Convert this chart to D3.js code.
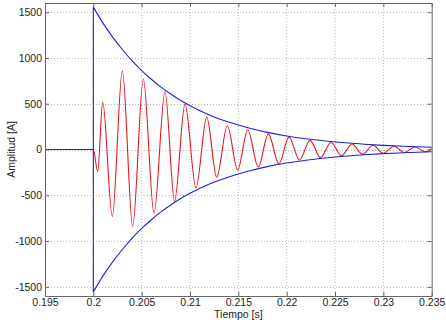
<!DOCTYPE html>
<html>
<head>
<meta charset="utf-8">
<script src="https://cdn.jsdelivr.net/npm/d3@7"></script>
<style>
  body { margin: 0; background: #fff; }
  svg { display: block; font-family: "Liberation Sans", Arial, Helvetica, sans-serif; }
</style>
</head>
<body>
<div id="chart"></div>
<script>
// tick values and labels
var xTicks = [0.195, 0.2, 0.205, 0.21, 0.215, 0.22, 0.225, 0.23, 0.235];
var xTickLabels = ["0.195", "0.2", "0.205", "0.21", "0.215", "0.22", "0.225", "0.23", "0.235"];
var yTicks = [-1500, -1000, -500, 0, 500, 1000, 1500];
var yTickLabels = ["-1500", "-1000", "-500", "0", "500", "1000", "1500"];

// envelope (blue)
var envTime = [0.195, 0.2, 0.201, 0.202, 0.203, 0.204, 0.205, 0.206, 0.207, 0.208, 0.209, 0.21,
  0.212, 0.214, 0.216, 0.218, 0.22, 0.222, 0.224, 0.226, 0.228, 0.23, 0.232, 0.235];
var envUpper = [0, 1555, 1380, 1228, 1092, 970, 862, 767, 681, 606, 538, 479,
  378, 300, 237, 187, 148, 117, 93, 73, 58, 45, 36, 25];
var envLower = [0, -1555, -1380, -1228, -1092, -970, -862, -767, -681, -606, -538, -479,
  -378, -300, -237, -187, -148, -117, -93, -73, -58, -45, -36, -25];

// current signal (red): peaks and troughs
var sigTime = [0.195, 0.2, 0.20045, 0.20097, 0.20196, 0.20300, 0.20407, 0.20517, 0.20628, 0.20741,
  0.20840, 0.20948, 0.21062, 0.21173, 0.21276, 0.21386, 0.21493, 0.21597, 0.21706, 0.21810,
  0.21920, 0.22024, 0.22133, 0.22241, 0.22350, 0.22458, 0.22567, 0.22676, 0.22784, 0.22893,
  0.23001, 0.23110, 0.23219, 0.23327, 0.23436, 0.235];
var sigValue = [0, 0, -240, 517, -731, 859, -840, 768, -694, 633,
  -565, 496, -421, 354, -301, 259, -222, 215, -192, 171,
  -156, 135, -115, 100, -88, 77, -68, 60, -53, 46,
  -41, 36, -32, 28, -25, 8];

var svgWidth = 446;
var svgHeight = 320;
var margin = { top: 3, right: 14.3, bottom: 24, left: 45 };
var width = svgWidth - margin.left - margin.right;
var height = svgHeight - margin.top - margin.bottom;

var svg = d3.select("#chart").append("svg")
  .attr("width", svgWidth)
  .attr("height", svgHeight);

var g = svg.append("g")
  .attr("transform", `translate(${margin.left},${margin.top})`);

var x = d3.scaleLinear().domain([0.195, 0.235]).range([0, width]);
var y = d3.scaleLinear().domain([-1600, 1600]).range([height, 0]);

// grid
g.append("g").selectAll("line").data(xTicks.slice(1, -1)).enter().append("line")
  .attr("x1", d => x(d)).attr("x2", d => x(d))
  .attr("y1", 0).attr("y2", height)
  .attr("stroke", "#b8b8b8").attr("stroke-width", 1).attr("stroke-dasharray", "1,2");
g.append("g").selectAll("line").data(yTicks).enter().append("line")
  .attr("y1", d => Math.round(y(d)) + 0.5).attr("y2", d => Math.round(y(d)) + 0.5)
  .attr("x1", 0).attr("x2", width)
  .attr("stroke", "#b8b8b8").attr("stroke-width", 1).attr("stroke-dasharray", "1,2");

// signal
var sig = sigTime.map((t, i) => ({ t: t, v: sigValue[i] }));
var line = d3.line().x(d => x(d.t)).y(d => y(d.v)).curve(d3.curveMonotoneX);

g.append("path")
  .datum(sig)
  .attr("fill", "none")
  .attr("stroke", "#e8141c")
  .attr("stroke-width", 1.1)
  .attr("d", line);

// envelopes: flat part, jump at 0.2, then decay
var upper = envTime.map((t, i) => ({ t: t, v: envUpper[i] }));
var lower = envTime.map((t, i) => ({ t: t, v: envLower[i] }));
var straight = d3.line().x(d => x(d.t)).y(d => y(d.v));

[upper, lower].forEach(function(env) {
  g.append("path")
    .datum(env.slice(0, 2).concat([{ t: env[1].t, v: 0 }]))
    .attr("fill", "none").attr("stroke", "#2020e0").attr("stroke-width", 1.1)
    .attr("d", d => straight([d[0], d[2], d[1]]));
  g.append("path")
    .datum(env.slice(1))
    .attr("fill", "none").attr("stroke", "#2020e0").attr("stroke-width", 1.1)
    .attr("d", line);
});

// axes with inward ticks on all four sides
var axisColor = "#666";
var xAxis = d3.axisBottom(x).tickValues(xTicks).tickFormat((d, i) => xTickLabels[i])
  .tickSizeInner(-4).tickSizeOuter(0).tickPadding(3);
var yAxis = d3.axisLeft(y).tickValues(yTicks).tickFormat((d, i) => yTickLabels[i])
  .tickSizeInner(-4).tickSizeOuter(0).tickPadding(3);

var xa = g.append("g").attr("transform", `translate(0,${height})`).call(xAxis);
var ya = g.append("g").call(yAxis);
g.append("g").call(d3.axisTop(x).tickValues(xTicks).tickFormat("").tickSizeInner(-4).tickSizeOuter(0));
g.append("g").attr("transform", `translate(${width},0)`)
  .call(d3.axisRight(y).tickValues(yTicks).tickFormat("").tickSizeInner(-4).tickSizeOuter(0));

g.selectAll(".domain").attr("stroke", axisColor);
g.selectAll(".tick line").attr("stroke", axisColor);
g.selectAll(".tick text").attr("fill", "#222").attr("font-size", "10.5px")
  .attr("font-family", "'Liberation Sans', Arial, Helvetica, sans-serif");

// axis labels
svg.append("text")
  .attr("x", margin.left + width / 2)
  .attr("y", 318.3)
  .attr("text-anchor", "middle")
  .attr("font-size", "10.5px")
  .attr("fill", "#222")
  .text("Tiempo [s]");

svg.append("text")
  .attr("transform", `translate(15,${margin.top + height / 2}) rotate(-90)`)
  .attr("text-anchor", "middle")
  .attr("font-size", "10.5px")
  .attr("fill", "#222")
  .text("Amplitud [A]");
</script>
</body>
</html>
